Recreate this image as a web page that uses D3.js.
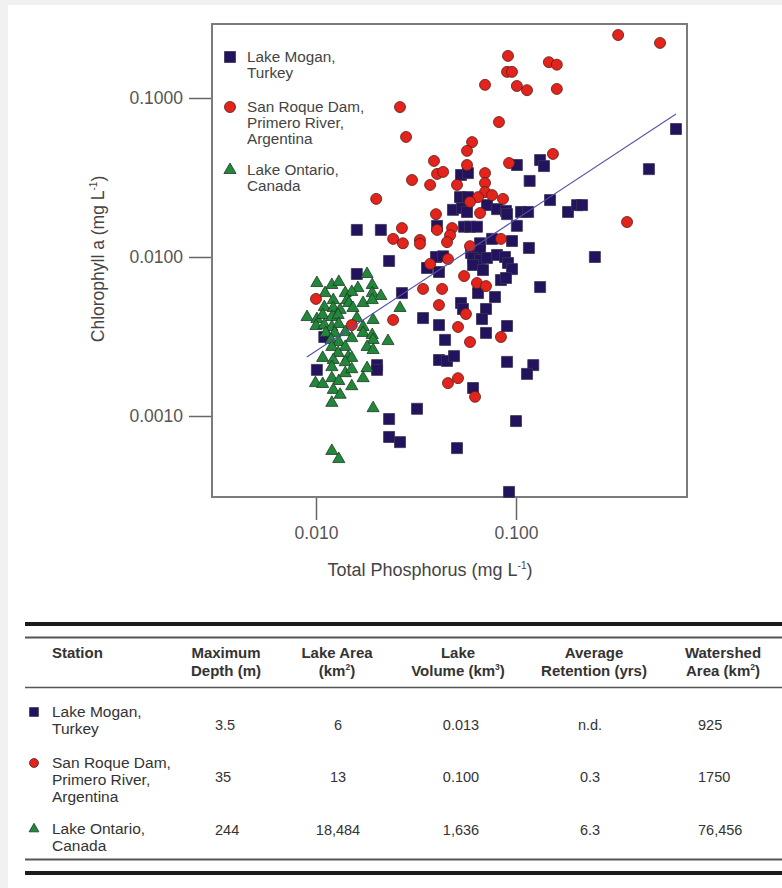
<!DOCTYPE html>
<html><head><meta charset="utf-8">
<script src="https://cdn.jsdelivr.net/npm/d3@7"></script>
<style>
body{margin:0;background:#fff}
svg{display:block;font-family:"Liberation Sans",Arial,Helvetica,sans-serif}
</style>
</head><body><svg id="c" width="782" height="888"></svg>
<script>
// ---------- data ----------
const xTicks = [0.01, 0.1];
const xTickLabels = ["0.010", "0.100"];
const yTicks = [0.1, 0.01, 0.001];
const yTickLabels = ["0.1000", "0.0100", "0.0010"];

const stationNames = [["Lake Mogan,", "Turkey"], ["San Roque Dam,", "Primero River,", "Argentina"], ["Lake Ontario,", "Canada"]];

// Lake Mogan (squares)
const moganTP = [0.631,0.462,0.101,0.132,0.138,0.117,0.0531,0.0575,0.148,0.182,0.202,0.214,0.248,0.0525,0.0575,0.0484,0.0537,0.0569,0.0716,0.0804,0.0891,0.0902,0.106,0.115,0.0550,0.0589,0.0638,0.101,0.0759,0.0955,0.0661,0.116,0.0160,0.0211,0.0403,0.0398,0.0432,0.0596,0.0661,0.0610,0.0661,0.0716,0.0804,0.0881,0.0912,0.0955,0.0610,0.0684,0.0359,0.0412,0.0841,0.0891,0.132,0.0232,0.0160,0.0269,0.0343,0.0412,0.0442,0.0412,0.0452,0.0490,0.0646,0.0785,0.0531,0.0543,0.0708,0.0676,0.0902,0.0708,0.0902,0.122,0.1135,0.0610,0.0320,0.100,0.0263,0.0232,0.0232,0.0507,0.0923,0.0110,0.0101,0.0202,0.0202];
const moganChl = [0.0638,0.0357,0.0379,0.0407,0.0373,0.0301,0.0328,0.0337,0.0228,0.0192,0.0212,0.0212,0.0100,0.0238,0.0238,0.0198,0.0203,0.0192,0.0212,0.0200,0.0195,0.0186,0.0192,0.0192,0.0155,0.0155,0.0155,0.0157,0.0130,0.0126,0.0122,0.0114,0.0148,0.0148,0.0157,0.0100,0.0101,0.0106,0.0111,0.00986,0.00957,0.00986,0.0103,0.0100,0.00917,0.00839,0.00891,0.00828,0.00853,0.00805,0.00716,0.00738,0.00647,0.00944,0.00782,0.00593,0.00413,0.00373,0.00301,0.00225,0.00222,0.00238,0.00593,0.00560,0.00514,0.00471,0.00471,0.00407,0.00368,0.00333,0.00219,0.00209,0.00184,0.00150,0.00111,0.000929,0.000685,0.000738,0.000957,0.000628,0.000333,0.00314,0.00195,0.00209,0.00195];

// San Roque Dam (circles)
const sanRoqueTP = [0.324,0.525,0.0912,0.0902,0.0955,0.146,0.160,0.0700,0.101,0.1135,0.160,0.0263,0.0822,0.0282,0.0603,0.0569,0.153,0.0389,0.0569,0.0923,0.0403,0.0432,0.0700,0.0302,0.0372,0.0507,0.0700,0.0700,0.0759,0.0646,0.0589,0.0861,0.0200,0.0398,0.0661,0.359,0.0269,0.0403,0.0479,0.0468,0.0243,0.0272,0.0331,0.0331,0.0452,0.0841,0.0589,0.0457,0.0372,0.0550,0.0638,0.0708,0.0343,0.0427,0.0412,0.0562,0.0513,0.0589,0.0841,0.0457,0.0513,0.0624,0.0100,0.0151,0.0243];
const sanRoqueChl = [0.249,0.222,0.184,0.146,0.146,0.168,0.162,0.121,0.119,0.112,0.114,0.0877,0.0706,0.0569,0.0528,0.0465,0.0445,0.0402,0.0379,0.0390,0.0333,0.0343,0.0337,0.0305,0.0284,0.0284,0.0292,0.0256,0.0245,0.0238,0.0222,0.0232,0.0232,0.0186,0.0189,0.0166,0.0152,0.0148,0.0152,0.0137,0.0130,0.0122,0.0128,0.0121,0.0124,0.0130,0.0117,0.00971,0.00904,0.00759,0.00686,0.00656,0.00630,0.00630,0.00499,0.00438,0.00363,0.00292,0.00314,0.00161,0.00173,0.00132,0.00545,0.00373,0.00402];

// Lake Ontario (triangles)
const ontarioTP = [0.0180,0.0101,0.0120,0.0130,0.0162,0.0191,0.0111,0.0140,0.0151,0.0191,0.0211,0.0122,0.0143,0.0172,0.0191,0.0110,0.0122,0.0132,0.0146,0.0153,0.0263,0.00902,0.0101,0.0108,0.0120,0.0129,0.0160,0.0193,0.0100,0.0110,0.0120,0.0130,0.0172,0.0112,0.0124,0.0140,0.0172,0.0191,0.0119,0.0130,0.0151,0.0193,0.0229,0.0120,0.0140,0.0180,0.0193,0.0108,0.0129,0.0145,0.0151,0.0122,0.0140,0.0180,0.0120,0.0140,0.0151,0.0172,0.00994,0.0108,0.0120,0.0130,0.0151,0.0122,0.0132,0.0120,0.0193,0.0120,0.0130];
const ontarioChl = [0.00782,0.00686,0.00667,0.00697,0.00638,0.00667,0.00593,0.00593,0.00603,0.00593,0.00569,0.00536,0.00536,0.00514,0.00536,0.00484,0.00478,0.00465,0.00514,0.00478,0.00478,0.00419,0.00407,0.00432,0.00419,0.00432,0.00413,0.00402,0.00368,0.00373,0.00363,0.00379,0.00363,0.00333,0.00333,0.00337,0.00333,0.00323,0.00301,0.00292,0.00309,0.00301,0.00296,0.00272,0.00272,0.00272,0.00260,0.00232,0.00249,0.00235,0.00232,0.00225,0.00218,0.00200,0.00203,0.00186,0.00197,0.00173,0.00161,0.00159,0.00173,0.00166,0.00154,0.00146,0.00136,0.00121,0.00112,0.000603,0.000536];

// regression line endpoints
const trendTP = [0.0090, 0.631];
const trendChl = [0.00235, 0.0793];

// table
const tableHeaders = [["Station"], ["Maximum", "Depth (m)"], ["Lake Area", "(km^2)"], ["Lake", "Volume (km^3)"], ["Average", "Retention (yrs)"], ["Watershed", "Area (km^2)"]];
const maxDepth = ["3.5", "35", "244"];
const lakeArea = ["6", "13", "18,484"];
const lakeVolume = ["0.013", "0.100", "1,636"];
const retention = ["n.d.", "0.3", "6.3"];
const watershedArea = ["925", "1750", "76,456"];

// ---------- drawing ----------
const svg = d3.select("#c");
svg.append("rect").attr("width", 782).attr("height", 888).attr("fill", "#fff");
svg.append("rect").attr("width", 782).attr("height", 5).attr("fill", "#f1f1f1");
svg.append("rect").attr("width", 8).attr("height", 888).attr("fill", "#f1f1f1");

const x = d3.scaleLog().domain([0.01, 0.1]).range([316, 516]);
const y = d3.scaleLog().domain([0.001, 0.1]).range([416, 98]);

const colors = {sq: "#23135f", ci: "#e3241d", tr: "#20873b"};
const strokes = {sq: "#3a3550", ci: "#5b1a12", tr: "#1f3a22"};
const shapes = {sq: d3.symbolSquare, ci: d3.symbolCircle, tr: d3.symbolTriangle};
const sizes = {sq: 121, ci: 95, tr: 64};

function sym(g, kind, px, py, scale) {
  g.append("path")
    .attr("d", d3.symbol().type(shapes[kind]).size(sizes[kind] * (scale || 1))())
    .attr("transform", `translate(${px},${py})`)
    .attr("fill", colors[kind]).attr("stroke", strokes[kind]).attr("stroke-width", 0.8);
}

// frame
svg.append("rect").attr("x", 212).attr("y", 24).attr("width", 475).attr("height", 473)
  .attr("fill", "#fff").attr("stroke", "#7b7b7b").attr("stroke-width", 2);

// axes
const xAxis = d3.axisBottom(x).tickValues(xTicks).tickFormat((d, i) => xTickLabels[i])
  .tickSize(22).tickPadding(7).tickSizeOuter(0);
const gx = svg.append("g").attr("transform", "translate(0,498)").call(xAxis);
gx.select(".domain").remove();
gx.selectAll("line").attr("stroke", "#666").attr("stroke-width", 1.5);
gx.selectAll("text").attr("font-size", 17.5).attr("fill", "#555").attr("font-family", null);

const yAxis = d3.axisLeft(y).tickValues(yTicks).tickFormat((d, i) => yTickLabels[i])
  .tickSize(22).tickPadding(6).tickSizeOuter(0);
const gy = svg.append("g").attr("transform", "translate(211,0)").call(yAxis);
gy.select(".domain").remove();
gy.selectAll("line").attr("stroke", "#666").attr("stroke-width", 1.5);
gy.selectAll("text").attr("font-size", 17.5).attr("fill", "#555").attr("font-family", null);

// axis titles
const xt = svg.append("text").attr("x", 430).attr("y", 576).attr("text-anchor", "middle")
  .attr("font-size", 18).attr("fill", "#444");
xt.append("tspan").text("Total Phosphorus (mg L");
xt.append("tspan").attr("font-size", 10).attr("dy", -7).text("-1");
xt.append("tspan").attr("dy", 7).text(")");

const yt = svg.append("text").attr("transform", "translate(104,259) rotate(-90)").attr("text-anchor", "middle")
  .attr("font-size", 17.5).attr("fill", "#444");
yt.append("tspan").text("Chlorophyll a (mg L");
yt.append("tspan").attr("font-size", 10).attr("dy", -7).text("-1");
yt.append("tspan").attr("dy", 7).text(")");

// points
const pts = svg.append("g");
const gSq = pts.append("g"), gTr = pts.append("g"), gCi = pts.append("g");
moganTP.forEach((v, i) => sym(gSq, "sq", x(v), y(moganChl[i])));
ontarioTP.forEach((v, i) => sym(gTr, "tr", x(v), y(ontarioChl[i])));
sanRoqueTP.forEach((v, i) => sym(gCi, "ci", x(v), y(sanRoqueChl[i])));

// trend line
svg.append("path").datum(trendTP.map((v, i) => [v, trendChl[i]]))
  .attr("d", d3.line().x(d => x(d[0])).y(d => y(d[1])))
  .attr("stroke", "#5452a8").attr("stroke-width", 1.1).attr("fill", "none");

// legend
const kinds = ["sq", "ci", "tr"];
const legendY = [57, 107, 170];
const leg = svg.append("g");
stationNames.forEach((lines, i) => {
  sym(leg, kinds[i], 230, legendY[i]);
  const t = leg.append("text").attr("x", 247).attr("y", legendY[i] + 5).attr("font-size", 15.3).attr("fill", "#444");
  lines.forEach((l, j) => t.append("tspan").attr("x", 247).attr("dy", j ? 16 : 0).text(l));
});

// table
const tbl = svg.append("g");
const hline = (yy, w, c) => tbl.append("line").attr("x1", 25).attr("x2", 782).attr("y1", yy).attr("y2", yy)
  .attr("stroke", c).attr("stroke-width", w);
hline(624, 4, "#1c1c1c");
hline(637.5, 1.8, "#555");
hline(687.5, 1.6, "#555");
hline(859.5, 1.8, "#555");
hline(873, 4, "#1c1c1c");

function supText(sel, s) {
  const parts = s.split("^");
  sel.append("tspan").text(parts[0]);
  if (parts.length > 1) {
    sel.append("tspan").attr("font-size", 8.5).attr("dy", -6).text(parts[1][0]);
    sel.append("tspan").attr("dy", 6).text(parts[1].slice(1));
  }
}
const headerX = [52, 226, 337, 458, 594, 723];
tableHeaders.forEach((h, i) => {
  h.forEach((line, j) => {
    const t = tbl.append("text").attr("x", headerX[i]).attr("y", 658 + j * 18)
      .attr("text-anchor", i === 0 ? "start" : "middle")
      .attr("font-size", 15).attr("font-weight", "bold").attr("fill", "#333");
    supText(t, line);
  });
});

const rowFirstY = [712, 763, 829];
const rowValY = [725, 777, 830];
stationNames.forEach((lines, i) => {
  sym(tbl, kinds[i], 34, rowFirstY[i], 0.65);
  const t = tbl.append("text").attr("y", rowFirstY[i] + 5).attr("font-size", 15.5).attr("fill", "#333");
  lines.forEach((l, j) => t.append("tspan").attr("x", 52).attr("dy", j ? 17 : 0).text(l));
});
const cols = [
  {vals: maxDepth, x: 215, anchor: "start"},
  {vals: lakeArea, x: 338, anchor: "middle"},
  {vals: lakeVolume, x: 461, anchor: "middle"},
  {vals: retention, x: 590, anchor: "middle"},
  {vals: watershedArea, x: 698, anchor: "start"}
];
cols.forEach(c => c.vals.forEach((v, i) => {
  tbl.append("text").attr("x", c.x).attr("y", rowValY[i] + 5).attr("text-anchor", c.anchor)
    .attr("font-size", 14.5).attr("fill", "#333").text(v);
}));
</script>
</body></html>
